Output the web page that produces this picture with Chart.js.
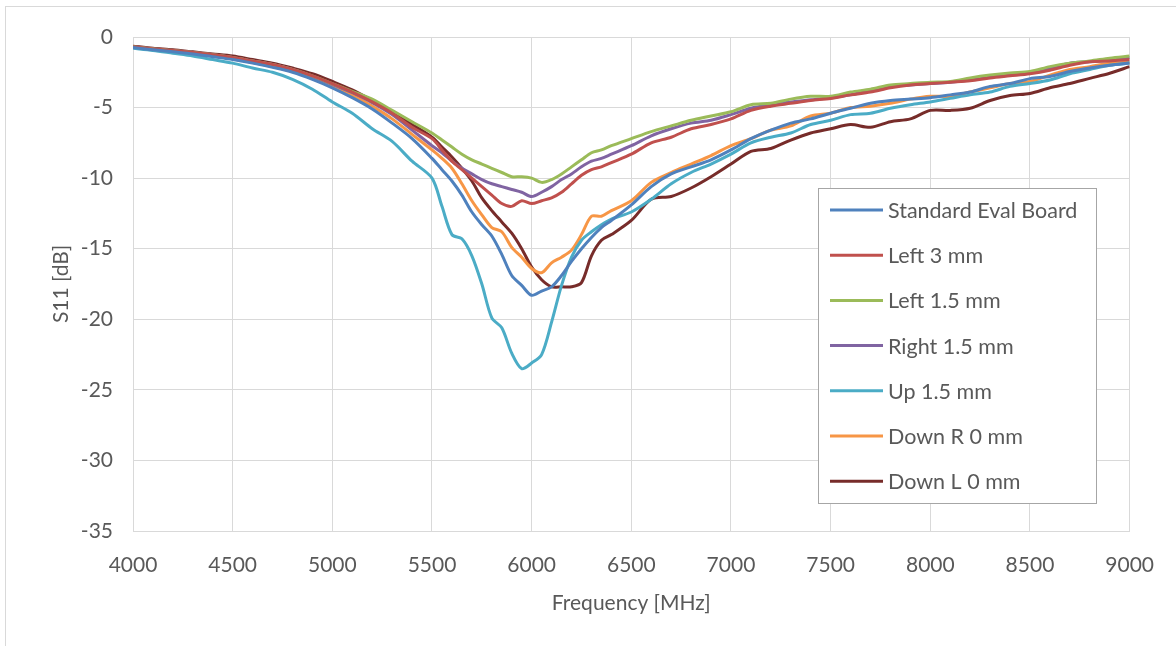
<!DOCTYPE html>
<html>
<head>
<meta charset="utf-8">
<script src="https://cdn.jsdelivr.net/npm/chart.js@4"></script>
<style>
  html, body { margin: 0; padding: 0; background: #fff; }
  #wrap { position: relative; width: 1176px; height: 646px; }
</style>
</head>
<body>
<div id="wrap"><canvas id="s11Chart" width="1176" height="646"></canvas></div>
<script>
// Frequency points in MHz (finer steps around the resonance)
const freq = [4000,4100,4200,4300,4400,4500,4600,4700,4800,4900,5000,5100,5200,5300,5400,5500,
  5550,5600,5650,5700,5750,5800,5850,5900,5950,6000,6050,6100,6150,6200,6250,6300,6350,6400,
  6500,6600,6700,6800,6900,7000,7100,7200,7300,7400,7500,7600,7700,7800,7900,8000,8100,8200,8300,8400,8500,8600,8700,8800,8900,9000];

// S11 in dB, one array per board variant
const standardEval = [-0.75,-0.9,-1.05,-1.2,-1.4,-1.6,-1.85,-2.15,-2.5,-3.0,-3.6,-4.3,-5.1,-6.1,-7.2,-8.6,
  -9.4,-10.2,-11.2,-12.4,-13.3,-14.1,-15.4,-16.9,-17.6,-18.3,-18.0,-17.7,-16.9,-15.9,-15.0,-14.2,-13.5,-13.0,
  -11.9,-10.6,-9.7,-9.2,-8.7,-8.0,-7.2,-6.6,-6.1,-5.8,-5.4,-5.05,-4.7,-4.5,-4.4,-4.3,-4.1,-3.9,-3.5,-3.3,-2.95,-2.8,-2.45,-2.2,-2.0,-1.85];
const left3 = [-0.7,-0.85,-0.95,-1.1,-1.25,-1.45,-1.7,-1.95,-2.3,-2.75,-3.3,-3.9,-4.6,-5.4,-6.4,-7.2,
  -8.0,-8.8,-9.4,-10.0,-10.6,-11.2,-11.8,-12.0,-11.6,-11.8,-11.6,-11.4,-11.0,-10.4,-9.8,-9.4,-9.2,-8.9,
  -8.3,-7.5,-7.1,-6.5,-6.2,-5.8,-5.2,-4.9,-4.7,-4.5,-4.35,-4.1,-3.9,-3.6,-3.4,-3.3,-3.2,-3.1,-2.9,-2.75,-2.6,-2.35,-2.0,-1.75,-1.7,-1.6];
const left15 = [-0.7,-0.85,-0.95,-1.1,-1.25,-1.45,-1.7,-1.95,-2.3,-2.75,-3.3,-3.85,-4.4,-5.2,-6.0,-6.8,
  -7.3,-7.8,-8.3,-8.7,-9.0,-9.3,-9.6,-9.9,-9.9,-10.0,-10.3,-10.1,-9.7,-9.2,-8.7,-8.2,-8.0,-7.7,
  -7.2,-6.7,-6.3,-5.9,-5.6,-5.3,-4.8,-4.7,-4.4,-4.2,-4.2,-3.9,-3.7,-3.4,-3.3,-3.2,-3.15,-2.9,-2.7,-2.55,-2.45,-2.1,-1.85,-1.7,-1.5,-1.35];
const right15 = [-0.7,-0.85,-0.95,-1.1,-1.25,-1.45,-1.7,-1.95,-2.3,-2.8,-3.35,-3.95,-4.65,-5.5,-6.6,-7.7,
  -8.2,-8.8,-9.3,-9.7,-10.1,-10.4,-10.6,-10.8,-11.0,-11.3,-11.0,-10.6,-10.1,-9.7,-9.2,-8.8,-8.6,-8.3,
  -7.7,-7.0,-6.5,-6.1,-5.9,-5.5,-5.05,-4.8,-4.6,-4.45,-4.3,-4.1,-3.75,-3.5,-3.4,-3.3,-3.2,-3.05,-2.85,-2.7,-2.5,-2.2,-1.85,-1.75,-1.65,-1.45];
const up15 = [-0.8,-0.95,-1.15,-1.35,-1.6,-1.85,-2.2,-2.5,-3.0,-3.7,-4.6,-5.4,-6.5,-7.4,-8.8,-10.0,
  -12.0,-14.0,-14.3,-15.5,-17.5,-19.9,-20.6,-22.4,-23.5,-23.1,-22.5,-20.2,-17.6,-15.6,-14.4,-13.8,-13.3,-12.9,
  -12.4,-11.5,-10.4,-9.6,-9.0,-8.3,-7.5,-7.1,-6.8,-6.2,-5.9,-5.5,-5.4,-5.05,-4.8,-4.6,-4.35,-4.1,-3.9,-3.5,-3.3,-3.05,-2.6,-2.3,-2.0,-1.85];
const downR0 = [-0.7,-0.85,-1.0,-1.15,-1.35,-1.55,-1.8,-2.1,-2.45,-2.9,-3.45,-4.1,-4.9,-5.8,-6.9,-8.0,
  -8.6,-9.3,-10.4,-11.6,-12.6,-13.5,-13.8,-14.9,-15.6,-16.4,-16.7,-16.0,-15.6,-15.1,-14.0,-12.7,-12.7,-12.3,
  -11.6,-10.3,-9.6,-9.0,-8.4,-7.7,-7.2,-6.6,-6.3,-5.6,-5.4,-5.0,-4.9,-4.7,-4.4,-4.2,-4.2,-3.9,-3.6,-3.3,-3.15,-2.7,-2.3,-2.1,-1.86,-1.8];
const downL0 = [-0.65,-0.8,-0.9,-1.05,-1.2,-1.35,-1.6,-1.85,-2.2,-2.6,-3.15,-3.75,-4.5,-5.3,-6.2,-7.1,
  -7.8,-8.5,-9.3,-10.2,-11.4,-12.3,-13.1,-13.9,-15.0,-16.3,-17.2,-17.7,-17.7,-17.7,-17.4,-15.5,-14.4,-14.0,
  -13.0,-11.5,-11.3,-10.7,-9.9,-9.0,-8.1,-7.9,-7.3,-6.8,-6.5,-6.2,-6.4,-6.0,-5.8,-5.2,-5.2,-5.05,-4.5,-4.15,-4.0,-3.6,-3.3,-2.93,-2.57,-2.1];

const seriesNames = ['Standard Eval Board', 'Left 3 mm', 'Left 1.5 mm', 'Right 1.5 mm', 'Up 1.5 mm', 'Down R 0 mm', 'Down L 0 mm'];
const seriesData = [standardEval, left3, left15, right15, up15, downR0, downL0];
const seriesColors = ['#4F81BD', '#C0504D', '#9BBB59', '#8064A2', '#4BACC6', '#F79646', '#772C2A'];

const textColor = '#595959';
const gridColor = '#d9d9d9';
const fontFamily = 'Lato, "Open Sans", sans-serif';

// Excel-style boxed legend drawn on the canvas
const boxLegend = {
    id: 'boxLegend',
    afterDraw(chart) {
        const ctx = chart.ctx;
        const box = { x: 818.5, y: 188.5, w: 278, h: 315 };
        ctx.save();
        ctx.fillStyle = '#ffffff';
        ctx.fillRect(box.x, box.y, box.w, box.h);
        ctx.strokeStyle = '#a6a6a6';
        ctx.lineWidth = 1;
        ctx.strokeRect(box.x, box.y, box.w, box.h);
        ctx.font = '21.5px ' + fontFamily;
        ctx.textBaseline = 'middle';
        ctx.textAlign = 'left';
        chart.data.datasets.forEach((ds, i) => {
            const y = 210 + i * 45.2;
            ctx.strokeStyle = ds.borderColor;
            ctx.lineWidth = 3;
            ctx.beginPath();
            ctx.moveTo(830, y);
            ctx.lineTo(883, y);
            ctx.stroke();
            ctx.fillStyle = textColor;
            ctx.fillText(ds.label, 888, y + 1);
        });
        ctx.restore();
    }
};

// Light frame around the chart (only top/left edge is in view)
const chartFrame = {
    id: 'chartFrame',
    beforeDraw(chart) {
        const ctx = chart.ctx;
        ctx.save();
        ctx.strokeStyle = gridColor;
        ctx.lineWidth = 1;
        ctx.strokeRect(5.5, 6.5, 1300, 800);
        ctx.restore();
    }
};

const ctx = document.getElementById('s11Chart').getContext('2d');
new Chart(ctx, {
    type: 'line',
    data: {
        datasets: seriesNames.map((name, i) => ({
            label: name,
            data: freq.map((f, j) => ({ x: f, y: seriesData[i][j] })),
            borderColor: seriesColors[i],
            backgroundColor: seriesColors[i],
            borderWidth: 3,
            pointRadius: 0,
            tension: 0.3,
            fill: false
        }))
    },
    plugins: [chartFrame, boxLegend],
    options: {
        responsive: false,
        animation: false,
        layout: { padding: { left: 0, right: 46, top: 37, bottom: 0 } },
        plugins: {
            legend: { display: false },
            tooltip: { enabled: false }
        },
        scales: {
            x: {
                type: 'linear',
                min: 4000,
                max: 9000,
                afterFit: (scale) => { scale.height = 115; },
                ticks: {
                    stepSize: 500,
                    color: textColor,
                    font: { family: fontFamily, size: 21 },
                    padding: 22,
                    maxRotation: 0,
                    callback: (v) => String(v)
                },
                grid: { color: gridColor, lineWidth: 1, drawTicks: false },
                border: { color: gridColor },
                title: {
                    display: true,
                    text: 'Frequency [MHz]',
                    color: textColor,
                    font: { family: fontFamily, size: 21 },
                    padding: { top: 0, bottom: 30 }
                }
            },
            y: {
                min: -35,
                max: 0,
                afterFit: (scale) => { scale.width = 133; },
                ticks: {
                    stepSize: 5,
                    color: textColor,
                    font: { family: fontFamily, size: 21 },
                    padding: 20,
                    callback: (v) => String(v)
                },
                grid: { color: gridColor, lineWidth: 1, drawTicks: false },
                border: { display: false },
                title: {
                    display: true,
                    text: 'S11 [dB]',
                    color: textColor,
                    font: { family: fontFamily, size: 21 },
                    padding: { top: 49, bottom: 0 }
                }
            }
        }
    }
});
</script>
</body>
</html>
